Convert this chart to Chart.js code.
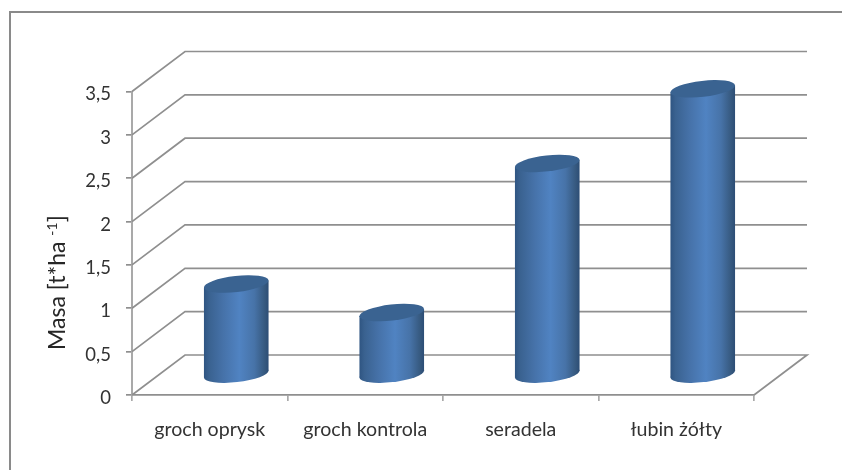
<!DOCTYPE html>
<html lang="pl">
<head>
<meta charset="utf-8">
<title>Masa [t*ha-1]</title>
<script src="https://cdn.jsdelivr.net/npm/chart.js@4"></script>
<style>
  html, body { margin: 0; padding: 0; background: #ffffff; }
  #box { width: 842px; height: 470px; }
</style>
</head>
<body>
<div id="box"><canvas id="chart" width="842" height="470"></canvas></div>
<script>
// Plant species and their biomass in t/ha
const categories = ["groch oprysk", "groch kontrola", "seradela", "łubin żółty"];
const masses = [1.05, 0.72, 2.44, 3.30];
const axisMin = 0;
const axisMax = 3.5;
const axisStep = 0.5;
const axisTitle = "Masa [t*ha ";
const axisTitleSup = "-1";
const axisTitleEnd = "]";

// Pseudo-3D projection of the floor depth
const DEPTH_X = 53;
const DEPTH_Y = -40;
const GRID = "#8f8f8f";
const AXIS = "#a9a9a9";
const TEXT = "#333333";
const FONT = "Lato, 'Open Sans', sans-serif";

// Outer chart frame, open towards the right and bottom edges
const framePlugin = {
  id: "frame",
  beforeDraw(chart) {
    const c = chart.ctx;
    c.save();
    c.strokeStyle = "#8a8a8a";
    c.lineWidth = 2;
    c.beginPath();
    c.moveTo(10, chart.height);
    c.lineTo(10, 12);
    c.lineTo(chart.width, 12);
    c.stroke();
    c.restore();
  }
};

// Side wall and back wall grid lines plus the floor outline
const wallsPlugin = {
  id: "walls",
  beforeDatasetsDraw(chart) {
    const c = chart.ctx;
    const { x, y } = chart.scales;
    const left = x.left, right = x.right;
    c.save();
    c.strokeStyle = GRID;
    c.lineWidth = 1.7;
    y.ticks.forEach(t => {
      const py = y.getPixelForValue(t.value);
      c.beginPath();
      c.moveTo(left, py);
      c.lineTo(left + DEPTH_X, py + DEPTH_Y);
      c.lineTo(right + DEPTH_X, py + DEPTH_Y);
      if (t.value === axisMin) c.lineTo(right, py);
      c.stroke();
    });
    c.restore();
  }
};

// Cylinders built from the bar elements, set back to mid-depth of the floor
const cylinderPlugin = {
  id: "cylinders",
  afterDatasetsDraw(chart) {
    const c = chart.ctx;
    const tilt = -6.5 * Math.PI / 180;
    const ry = 8;
    chart.getDatasetMeta(0).data.forEach(bar => {
      const cx = bar.x + DEPTH_X / 2;
      const top = bar.y + DEPTH_Y / 2;
      const bottom = bar.base + DEPTH_Y / 2;
      const rx = bar.width / 2;
      const hw = Math.sqrt(Math.pow(rx * Math.cos(tilt), 2) + Math.pow(ry * Math.sin(tilt), 2));
      const dy = (rx * rx - ry * ry) * Math.sin(-tilt) * Math.cos(tilt) / hw;

      const g = c.createLinearGradient(cx - hw, 0, cx + hw, 0);
      g.addColorStop(0, "#2f5582");
      g.addColorStop(0.08, "#3a6290");
      g.addColorStop(0.3, "#4672a9");
      g.addColorStop(0.55, "#5083c2");
      g.addColorStop(0.78, "#4773a8");
      g.addColorStop(0.94, "#36597f");
      g.addColorStop(1, "#2c4d75");

      c.save();
      c.fillStyle = g;
      c.beginPath();
      c.moveTo(cx - hw, top + dy);
      c.lineTo(cx + hw, top - dy);
      c.lineTo(cx + hw, bottom - dy);
      c.lineTo(cx - hw, bottom + dy);
      c.closePath();
      c.fill();
      c.beginPath();
      c.ellipse(cx, bottom, rx, ry, tilt, 0, Math.PI * 2);
      c.fill();
      c.fillStyle = "#3a6391";
      c.beginPath();
      c.ellipse(cx, top, rx, ry, tilt, 0, Math.PI * 2);
      c.fill();
      c.restore();
    });
  }
};

// Rotated value-axis title with a raised exponent
const axisTitlePlugin = {
  id: "axisTitle",
  afterDraw(chart) {
    const c = chart.ctx;
    const big = "23px " + FONT;
    const small = "14px " + FONT;
    c.save();
    c.translate(65, 350);
    c.rotate(-Math.PI / 2);
    c.fillStyle = "#262626";
    c.textBaseline = "alphabetic";
    c.textAlign = "left";
    c.font = big;
    c.fillText(axisTitle, 0, 0);
    let run = c.measureText(axisTitle).width;
    c.font = small;
    c.fillText(axisTitleSup, run, -8);
    run += c.measureText(axisTitleSup).width;
    c.font = big;
    c.fillText(axisTitleEnd, run, 0);
    c.restore();
  }
};

new Chart(document.getElementById("chart"), {
  type: "bar",
  data: {
    labels: categories,
    datasets: [{
      data: masses,
      backgroundColor: "transparent",
      borderWidth: 0,
      categoryPercentage: 1,
      barPercentage: 0.418
    }]
  },
  options: {
    responsive: false,
    animation: false,
    layout: { padding: { top: 91.5, right: 88, left: 0, bottom: 0 } },
    plugins: { legend: { display: false }, tooltip: { enabled: false }, title: { display: false } },
    scales: {
      x: {
        offset: true,
        afterFit(scale) { scale.height = 75; },
        grid: { offset: true, drawOnChartArea: false, drawTicks: true, tickLength: 6, color: AXIS, lineWidth: 1.7 },
        border: { display: true, color: GRID, width: 1.7 },
        ticks: {
          color: TEXT,
          padding: 17,
          maxRotation: 0,
          autoSkip: false,
          font: { family: FONT, size: 19.6 }
        }
      },
      y: {
        min: axisMin,
        max: axisMax,
        afterFit(scale) { scale.width = 132; },
        grid: { drawOnChartArea: false, drawTicks: true, tickLength: 6, color: GRID, lineWidth: 1.7 },
        border: { display: true, color: AXIS, width: 2 },
        ticks: {
          stepSize: axisStep,
          color: TEXT,
          padding: 15,
          labelOffset: 3,
          font: { family: FONT, size: 18.5 },
          callback: v => String(v).replace(".", ",")
        }
      }
    }
  },
  plugins: [framePlugin, wallsPlugin, cylinderPlugin, axisTitlePlugin]
});
</script>
</body>
</html>
